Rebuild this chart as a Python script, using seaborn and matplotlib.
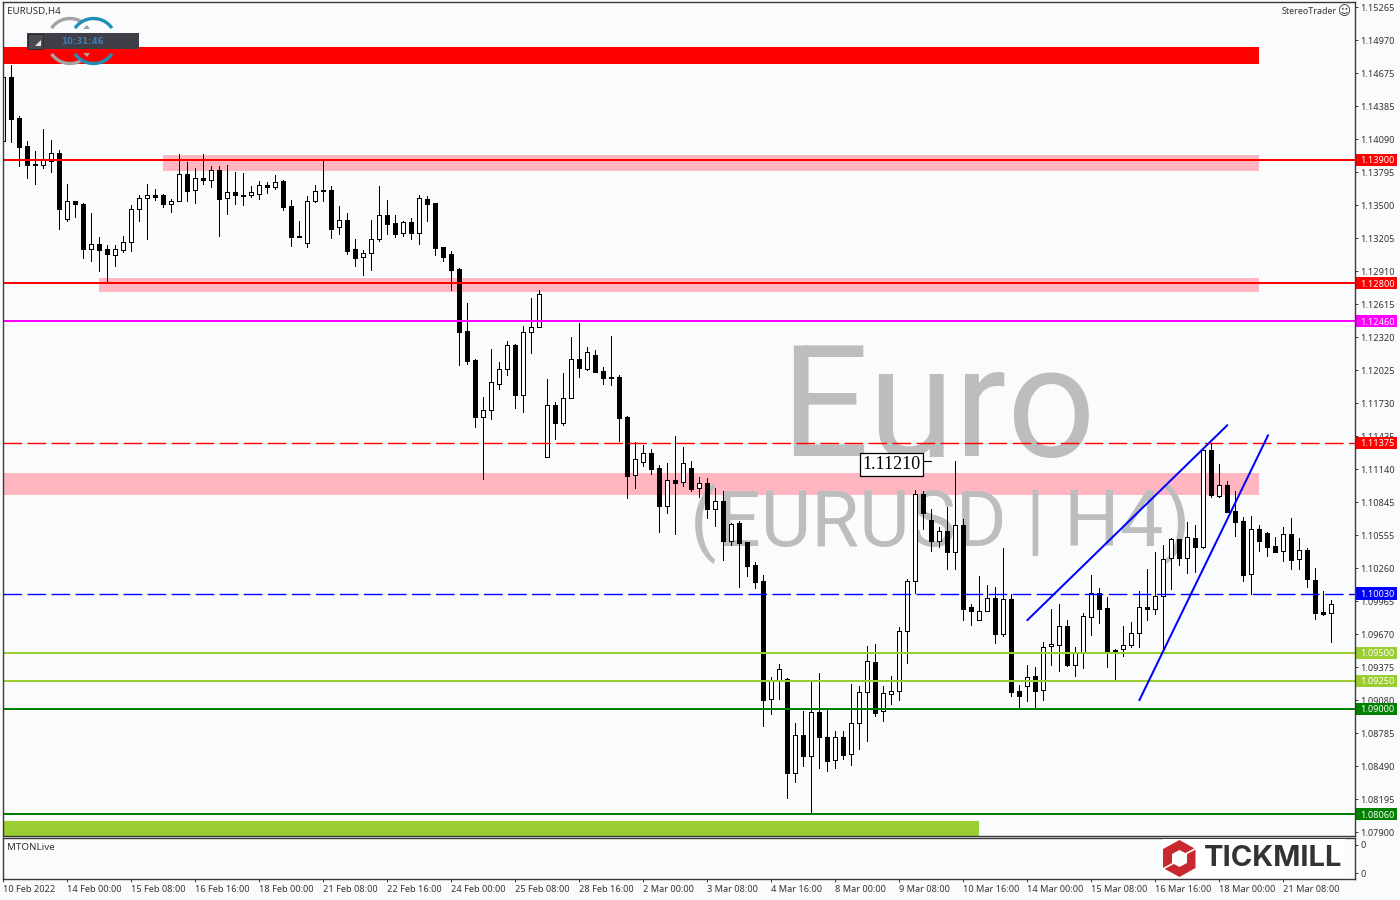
import numpy as np
import pandas as pd
import seaborn as sns
import matplotlib.pyplot as plt
from matplotlib.patches import Rectangle, Polygon
from matplotlib.transforms import ScaledTranslation

# EURUSD H4 candles, values in points (1e-5)
opens = [114067,114638,114272,114022,113852,113852,113888,113960,113370,113531,113504,113103,113147,113103,113049,113094,113165,113460,113558,113585,
         113585,113504,113531,113772,113629,113736,113718,113808,113558,113611,113576,113585,113594,113674,113656,113710,113486,113215,113156,113531,
         113629,113629,113299,113362,113103,113031,113067,113192,113406,113335,113245,113344,113245,113549,113513,113121,113058,112924,112371,112112,
         111603,111666,111898,112032,112246,111800,112362,112407,111246,111710,111550,111773,112121,112032,112157,112014,111951,111960,111603,111086,
         111202,111282,111148,110809,111041,111023,111148,110970,111014,110782,110854,110497,110657,110488,110282,110140,109086,109247,109265,108426,
         108765,108578,108970,108747,108542,108747,108596,108872,109149,109417,108979,109131,109158,109693,110140,110916,110684,110497,110586,110398,
         110639,109908,109792,109872,109988,109667,109979,109158,109202,109292,109167,109559,109568,109738,109390,109506,109818,110032,109899,109515,
         109533,109568,109675,109908,109890,110006,110345,110514,110345,110523,110443,111309,110898,110996,110764,110675,110202,110604,110568,110452,
         110407,110559,110336,110416,110149,109863,109854]
highs = [114941,114745,114290,114067,113977,114174,114075,113986,113683,113531,113513,113424,113210,113138,113138,113219,113495,113585,113683,113638,
         113594,113549,113951,113879,113826,113951,113843,113843,113852,113790,113781,113665,113710,113701,113763,113718,113540,113353,113576,113674,
         113888,113665,113486,113424,113192,113094,113362,113665,113540,113406,113353,113379,113585,113576,113513,113121,113085,112933,112621,112121,
         111782,112210,112094,112282,112255,112415,112665,112737,111942,111737,111996,112317,112442,112228,112201,112050,112326,111978,111612,111380,
         111353,111318,111175,111193,111434,111335,111211,111068,111059,110970,110943,110657,110675,110488,110309,110193,109283,109399,109274,108872,
         108979,109238,109318,108988,108801,108801,109220,109202,109559,109577,109202,109292,109729,110157,110952,110943,110782,110622,110800,111211,
         110693,109934,110184,110104,110086,110434,110023,109211,109390,109372,109595,109890,109934,109792,109550,109854,110193,110077,109997,109533,
         109738,109774,110050,110247,110398,110461,110523,110514,110666,110639,111309,111371,111184,111032,110943,110711,110720,110639,110577,110532,
         110622,110702,110523,110434,110256,110050,109970]
lows = [113736,114058,113843,113736,113683,113826,113790,113281,113353,113388,113022,112996,112906,112808,112951,113076,113085,113353,113192,113540,
        113478,113433,113531,113531,113513,113683,113656,113219,113415,113504,113495,113567,113549,113602,113638,113451,113129,113215,113121,113522,
        113531,113201,113237,113058,112951,112871,112915,113174,113237,113210,113219,113192,113147,113353,113049,112996,112737,112067,112076,111514,
        111050,111585,111853,111978,111684,111648,112174,112407,111246,111407,111532,111773,111960,112023,112005,111898,111889,111389,110880,110970,
        111166,111095,110577,110746,110559,110987,110943,110889,110702,110630,110327,110461,110086,110184,110077,108846,108952,109086,108203,108345,
        108488,108069,108471,108444,108471,108551,108497,108640,108712,108935,108890,109042,109077,109408,110032,110604,110407,110443,110247,110247,
        109792,109747,109792,109872,109586,109649,109113,109015,109069,109006,109077,109390,109336,109381,109292,109363,109658,109765,109372,109256,
        109470,109550,109550,109792,109845,109506,110068,110282,110211,110220,110434,110889,110889,110755,110541,110140,110023,110407,110363,110398,
        110318,110247,110247,110086,109801,109836,109595]
closes = [114638,114263,114013,113852,113861,113897,113960,113460,113531,113504,113103,113147,113094,113058,113103,113165,113460,113558,113585,113567,
          113504,113531,113772,113620,113736,113718,113808,113549,113611,113585,113585,113611,113674,113656,113701,113478,113210,113219,113531,113620,
          113620,113281,113362,113085,113022,113067,113192,113406,113326,113237,113344,113245,113558,113504,113112,113031,112915,112362,112103,111603,
          111666,111916,112032,112246,111800,112362,112407,112701,111710,111550,111773,112121,112041,112183,112005,111951,111960,111594,111077,111228,
          111282,111139,110809,111041,111014,111193,110961,111014,110782,110854,110497,110648,110479,110273,110131,109077,109247,109354,108426,108765,
          108578,108970,108747,108533,108747,108587,108872,109149,109426,108961,109140,109158,109693,110140,110916,110746,110497,110586,110398,110639,
          109890,109872,109872,109988,109667,109979,109149,109113,109283,109158,109550,109577,109738,109390,109506,109827,110032,109890,109506,109524,
          109568,109675,109908,109890,110006,110336,110514,110345,110532,110443,111309,110907,110996,110755,110666,110193,110604,110497,110443,110398,
          110559,110327,110416,110157,109854,109845,109934]

# horizontal levels: price, tag text, colour, dashed
level_prices = [113900, 112800, 112460, 111375, 110030, 109500, 109250, 109000, 108060]
level_tags = ['1.13900', '1.12800', '1.12460', '1.11375', '1.10030', '1.09500', '1.09250', '1.09000', '1.08060']
level_colors = ['#ff0000', '#ff0000', '#ff00ff', '#ff0000', '#0000ff', '#9acd32', '#9acd32', '#008000', '#008000']
level_dashed = [False, False, False, True, True, False, False, False, False]

# shaded zones: start candle, end candle, top, bottom, colour
zone_start = [-1, 20, 12, -1, -1]
zone_end = [157, 157, 157, 157, 122]
zone_top = [114906, 113942, 112844, 111104, 107998]
zone_bottom = [114758, 113799, 112722, 110907, 107864]
zone_colors = ['#ff0000', '#ffb6c1', '#ffb6c1', '#ffb6c1', '#9acd32']

# trend lines drawn on the chart
trend_x = [[128, 153], [142, 158.1]]
trend_y = [[109792, 111532], [109077, 111443]]

price_ticks = [115265,114970,114675,114385,114090,113795,113500,113205,112910,112615,112320,112025,111730,
               111435,111140,110845,110555,110260,109965,109670,109375,109080,108785,108490,108195,107900]
date_labels = ['10 Feb 2022','14 Feb 00:00','15 Feb 08:00','16 Feb 16:00','18 Feb 00:00','21 Feb 08:00','22 Feb 16:00',
               '24 Feb 00:00','25 Feb 08:00','28 Feb 16:00','2 Mar 00:00','3 Mar 08:00','4 Mar 16:00','8 Mar 00:00',
               '9 Mar 08:00','10 Mar 16:00','14 Mar 00:00','15 Mar 08:00','16 Mar 16:00','18 Mar 00:00','21 Mar 08:00']

bg = '#fafbfd'
frame = '#3a3a3a'
txt = '#333333'
ui_font = ['Noto Sans', 'DejaVu Sans']

sns.set_theme(style='white', rc={'lines.scale_dashes': False})
plt.rcParams['font.family'] = ui_font

df = pd.DataFrame({'i': np.arange(len(opens)), 'open': opens, 'high': highs, 'low': lows, 'close': closes}) / 1e5
df['i'] = np.arange(len(opens))
df['body'] = (df['close'] - df['open']).abs()
df['bottom'] = df[['open', 'close']].min(axis=1)
df['up'] = df['close'] >= df['open']

fig = plt.figure(figsize=(14, 9), dpi=100, facecolor=bg)
ax = fig.add_axes([2.5 / 1400, 1 - 836 / 900, 1352.5 / 1400, 834 / 900], facecolor=bg)
sub = fig.add_axes([2.5 / 1400, 1 - 879 / 900, 1352.5 / 1400, 41 / 900], facecolor=bg)

# zones and watermark go under the candles
for s, e, t, b, c in zip(zone_start, zone_end, zone_top, zone_bottom, zone_colors):
    ax.add_patch(Rectangle((s, b / 1e5), e - s, (t - b) / 1e5, facecolor=c, edgecolor='none', zorder=1))

ax.text(116.8, 1.11635, 'Euro', family='Roboto', fontsize=112, color='#bcbdbe', ha='center', va='center', zorder=1.5)
ax.text(117.1, 1.10654, '(EURUSD | H4)', family='Roboto', fontsize=56, color='#bcbdbe', ha='center', va='center', zorder=1.5)

# candles
ax.vlines(df['i'], df['low'], df['high'], color='black', lw=0.72, antialiased=False, zorder=3)
for is_up, fill in [(True, 'white'), (False, 'black')]:
    part = df[df['up'] == is_up]
    sns.barplot(data=part, x='i', y='body', bottom=part['bottom'].to_numpy(), native_scale=True, orient='x',
                color=fill, saturation=1, width=0.5, edgecolor='black', linewidth=0.72, errorbar=None,
                antialiased=False, zorder=4, ax=ax)

# level lines sit on top of the candles
for p, c, d in zip(level_prices, level_colors, level_dashed):
    if d:
        ax.axhline(p / 1e5, color=c, lw=1.0, ls=(0, (13.4, 3.9)), zorder=5)
    else:
        ax.axhline(p / 1e5, color=c, lw=1.44, zorder=5)

# trend lines on top
for tx, ty in zip(trend_x, trend_y):
    ax.plot(tx, np.array(ty) / 1e5, color='#0000ff', lw=1.44, zorder=5)

# price label with small leader
ax.plot([114.8, 116], [1.1121, 1.1121], color='black', lw=0.8, zorder=5)
ax.text(111, 1.11181, '1.11210', family='Liberation Serif', fontsize=13, color='black', ha='center', va='center', zorder=6,
        bbox=dict(boxstyle='square,pad=0.15', facecolor='white', edgecolor='black', lw=0.9))

ax.set_xlim(-0.1, 168.96)
ax.set_ylim(1.07866, 1.15309)
ax.set_xlabel('')
ax.set_ylabel('')
ax.set_xticks([])
ax.yaxis.tick_right()
ax.set_yticks(np.array(price_ticks) / 1e5)
ax.set_yticklabels(['%.5f' % (p / 1e5) for p in price_ticks])
ax.tick_params(axis='y', length=2.2, width=0.7, pad=1.6, labelsize=6.6, color=frame, labelcolor=txt, right=True)
nudge = ScaledTranslation(0, -0.8 / 100, fig.dpi_scale_trans)
for lab in ax.get_yticklabels():
    lab.set_transform(lab.get_transform() + nudge)

# coloured price tags in the right gutter
for p, tag, c in zip(level_prices, level_tags, level_colors):
    ax.add_patch(Rectangle((1.0007, (p - 55) / 1e5), 0.0303, 110 / 1e5, transform=ax.get_yaxis_transform(),
                           facecolor=c, edgecolor='none', clip_on=False, zorder=7))
    ax.text(1.0037, p / 1e5, tag, transform=ax.get_yaxis_transform(), color='white', fontsize=6.6, va='center_baseline',
            clip_on=False, zorder=8)

ax.text(0.0033, 0.9892, 'EURUSD,H4', transform=ax.transAxes, fontsize=7, color=txt, va='center')
ax.text(0.9862, 0.9882, 'StereoTrader', transform=ax.transAxes, fontsize=6.4, color=txt, va='center', ha='right')
ax.text(0.9921, 0.9882, '\u263a', transform=ax.transAxes, fontsize=9, color=txt, va='center', ha='center', family='DejaVu Sans')

# indicator panel
sub.set_xlim(ax.get_xlim())
sub.set_ylim(0, 1)
sub.set_xticks(np.arange(len(date_labels)) * 8)
sub.set_xticklabels(date_labels, ha='left')
sub.yaxis.tick_right()
sub.set_yticks([0.146, 0.83])
sub.set_yticklabels(['0', '0'])
sub.tick_params(axis='both', length=2.2, width=0.7, pad=1.6, labelsize=6.6, color=frame, labelcolor=txt, bottom=True, right=True)
sub.tick_params(axis='x', pad=1.9)
sub.text(0.0033, 0.77, 'MTONLive', transform=sub.transAxes, fontsize=7, color=txt, va='center')

for a in (ax, sub):
    for sp in a.spines.values():
        sp.set_color(frame)
        sp.set_linewidth(1.0)
        sp.set_visible(True)
        sp.set_zorder(9)

# overlay in figure pixels for the timer widget and the logo
deco = fig.add_axes([0, 0, 1, 1], facecolor='none')
deco.set_xlim(0, 1400)
deco.set_ylim(900, 0)
deco.axis('off')

for cx, color, a0, a1 in [(70, '#a3a3a3', 215, 300), (93.5, '#1f8fb8', 215, 325)]:
    for sign in (1, -1):
        t = np.radians(np.linspace(a0, a1, 40))
        deco.plot(cx + 22.5 * np.cos(t), 41 + sign * 22.5 * np.sin(t), color=color, lw=2.4, solid_capstyle='butt')
for sign in (1, -1):
    deco.add_patch(Polygon([(83, 41 - sign * 12), (90, 41 - sign * 12), (87, 41 - sign * 16)], facecolor='#a3a3a3', edgecolor='none'))
deco.add_patch(Rectangle((27, 33), 112, 16, facecolor='#3f3f47', edgecolor='none', zorder=3))
deco.add_patch(Rectangle((28, 34), 14.5, 14.5, facecolor='#4a4a52', edgecolor='#2c2c30', lw=0.7, zorder=4))
deco.add_patch(Polygon([(35, 46), (41, 46), (41, 40)], facecolor='#e8e8e8', edgecolor='none', zorder=5))
deco.text(82, 41, '10:31:46', family='DejaVu Sans', color='#3f7cb5', fontsize=6.1, fontweight='bold', ha='center', va='center', zorder=5)

deco.add_patch(Rectangle((1163, 839), 182, 39, facecolor='#ffffff', edgecolor='none', zorder=2))
deco.add_patch(Polygon([(1179.5, 840), (1195.5, 849), (1195.5, 868), (1179.5, 877), (1163, 868), (1163, 849)],
                       facecolor='#c8282e', edgecolor='none', zorder=3))
deco.add_patch(Polygon([(1179.5, 850), (1187, 854), (1187, 863), (1179.5, 867), (1172, 863), (1172, 854)],
                       facecolor='#ffffff', edgecolor='none', zorder=4))
deco.plot([1185.7, 1196], [853.8, 848.4], color='white', lw=1.2, zorder=4)
deco.plot([1173, 1163], [863.5, 868.8], color='white', lw=1.2, zorder=4)
deco.text(1273, 858.5, 'TICKMILL', family='Inter', fontweight='bold', fontsize=21, color='#333333', ha='center', va='center', zorder=4)

fig.savefig('out.png', dpi=100, facecolor=bg)
